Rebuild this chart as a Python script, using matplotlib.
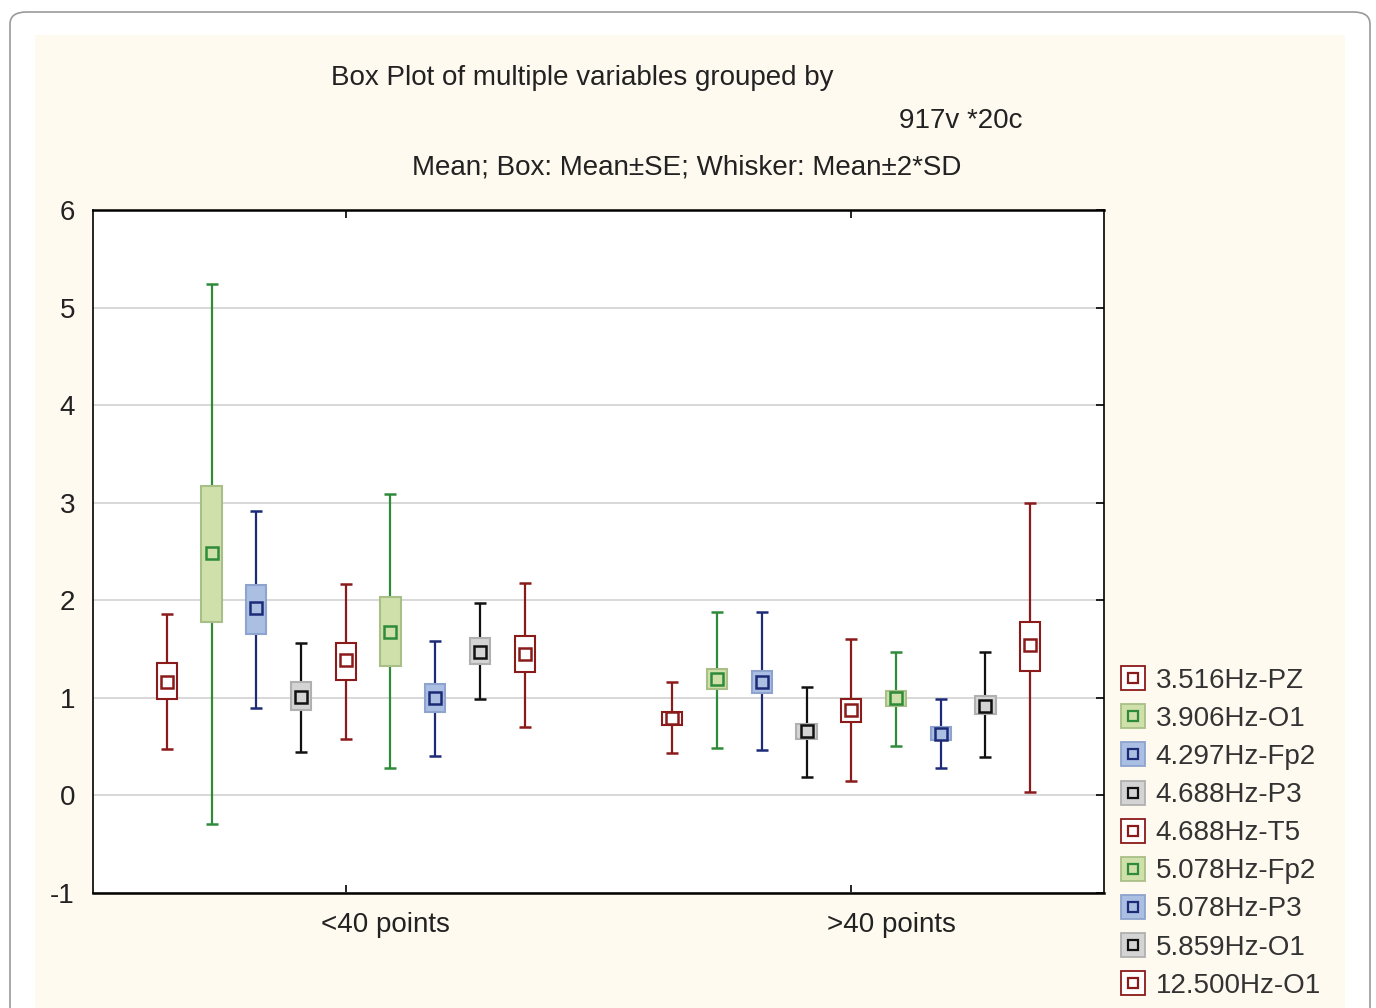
import matplotlib
matplotlib.use("Agg")
import matplotlib.pyplot as plt
from matplotlib.patches import FancyBboxPatch, Rectangle
from matplotlib.lines import Line2D
from matplotlib.legend_handler import HandlerTuple
import matplotlib.transforms as mtrans

plt.rcParams['font.family'] = ['Liberation Sans', 'DejaVu Sans']
plt.rcParams['axes.unicode_minus'] = False

groups = ["<40 points", ">40 points"]
series = ["3.516Hz-PZ", "3.906Hz-O1", "4.297Hz-Fp2", "4.688Hz-P3", "4.688Hz-T5",
          "5.078Hz-Fp2", "5.078Hz-P3", "5.859Hz-O1", "12.500Hz-O1"]

# per group: lists over series
mean_g1 = [1.16, 2.48, 1.92, 1.01, 1.39, 1.67, 1.00, 1.47, 1.45]
se_lo_g1 = [0.99, 1.78, 1.65, 0.88, 1.18, 1.33, 0.85, 1.35, 1.26]
se_hi_g1 = [1.36, 3.17, 2.16, 1.16, 1.56, 2.03, 1.14, 1.61, 1.63]
wh_lo_g1 = [0.48, -0.29, 0.90, 0.45, 0.58, 0.28, 0.40, 0.99, 0.70]
wh_hi_g1 = [1.86, 5.24, 2.91, 1.56, 2.17, 3.09, 1.58, 1.97, 2.18]

mean_g2 = [0.79, 1.19, 1.16, 0.66, 0.88, 1.00, 0.63, 0.92, 1.54]
se_lo_g2 = [0.72, 1.09, 1.05, 0.58, 0.75, 0.92, 0.57, 0.83, 1.28]
se_hi_g2 = [0.86, 1.30, 1.28, 0.73, 0.99, 1.07, 0.70, 1.02, 1.78]
wh_lo_g2 = [0.43, 0.49, 0.47, 0.19, 0.15, 0.51, 0.28, 0.39, 0.04]
wh_hi_g2 = [1.16, 1.88, 1.88, 1.11, 1.60, 1.47, 0.99, 1.47, 3.00]

edge_colors = ["#8b1a1a", "#2e8b3a", "#1c2a78", "#111111", "#8b1a1a",
               "#2e8b3a", "#1c2a78", "#111111", "#8b1a1a"]
fill_colors = ["#ffffff", "#cfe0aa", "#aabfe2", "#d4d4d4", "#ffffff",
               "#cfe0aa", "#aabfe2", "#d4d4d4", "#ffffff"]
box_edge_colors = ["#8b1a1a", "#a9bf88", "#8ea4cf", "#b0b0b0", "#8b1a1a",
                   "#a9bf88", "#8ea4cf", "#b0b0b0", "#8b1a1a"]

fig = plt.figure(figsize=(13.76, 10.08), dpi=100)
fig.patch.set_facecolor("white")
# outer rounded frame and cream panel
fig.add_artist(FancyBboxPatch((10/1376, -0.05), 1360/1376, (1008-10)/1008 + 0.05 - 0.002,
                              boxstyle="round,pad=0,rounding_size=0.012",
                              transform=fig.transFigure, facecolor="white",
                              edgecolor="#9a9a9a", lw=1.2, zorder=-3))
fig.add_artist(Rectangle((35/1376, 0), 1310/1376, (1008-35)/1008,
                         transform=fig.transFigure, facecolor="#fffaf0",
                         edgecolor="none", zorder=-2))

ax = fig.add_axes([93/1376, 1-893/1008, (1104-93)/1376, (893-210)/1008])
ax.set_facecolor("white")
ax.set_xlim(-0.5, 1.5)
ax.set_ylim(-1, 6)
ax.set_yticks(range(-1, 7))
ax.set_xticks([0, 1])
ax.set_xticklabels(groups)
ax.yaxis.grid(True, color="#d6d6d6", lw=1.3)
ax.set_axisbelow(True)
for s in ax.spines.values():
    s.set_color("black")
    s.set_linewidth(1.2)
ax.spines['top'].set_linewidth(1.8)
ax.spines['bottom'].set_linewidth(1.8)
ax.tick_params(axis='both', direction='in', length=6, width=1.2, labelsize=20,
               top=True, right=True, colors="black")
ax.tick_params(axis='y', pad=13, left=False, labelcolor="#222222")
ax.tick_params(axis='x', pad=14, labelcolor="#222222")
for lab in ax.get_xticklabels():
    lab.set_transform(lab.get_transform() + mtrans.ScaledTranslation(40/100, 0, fig.dpi_scale_trans))

step = 0.0885
w = 0.040
data = [(mean_g1, se_lo_g1, se_hi_g1, wh_lo_g1, wh_hi_g1),
        (mean_g2, se_lo_g2, se_hi_g2, wh_lo_g2, wh_hi_g2)]
for g, (mn, slo, shi, wlo, whi) in enumerate(data):
    for i in range(len(series)):
        x = g + (i - 4) * step
        ax.errorbar([x], [mn[i]], yerr=[[mn[i] - wlo[i]], [whi[i] - mn[i]]],
                    fmt='none', ecolor=edge_colors[i], elinewidth=1.6,
                    capsize=4, capthick=1.8, zorder=2)
        ax.bar([x], [shi[i] - slo[i]], bottom=[slo[i]], width=w,
               color=fill_colors[i], edgecolor=box_edge_colors[i], lw=1.5, zorder=3)
        ax.plot([x], [mn[i]], marker='s', ms=9, mfc=fill_colors[i],
                mec=edge_colors[i], mew=1.8, ls='none', zorder=4)

handles = []
for i in range(len(series)):
    outer = Line2D([], [], marker='s', ms=17, mfc=fill_colors[i],
                   mec=edge_colors[i] if fill_colors[i] == "#ffffff" else box_edge_colors[i],
                   mew=1.3, ls='none')
    inner = Line2D([], [], marker='s', ms=7, mfc='none', mec=edge_colors[i], mew=1.6, ls='none')
    handles.append((outer, inner))
leg = fig.legend(handles, series, handler_map={tuple: HandlerTuple(ndivide=1, pad=0)},
                 loc='upper left', bbox_to_anchor=(1119/1376, 1 - 668/1008),
                 frameon=False, fontsize=20, handlelength=1.0, handletextpad=0.32,
                 labelspacing=0.435, borderpad=0, borderaxespad=0)
for t in leg.get_texts():
    t.set_color("#333333")

fig.text(582/1376, 1 - 78/1008, "Box Plot of multiple variables grouped by",
         ha='center', va='center', fontsize=20, color="#222222")
fig.text(961/1376, 1 - 121/1008, "917v *20c", ha='center', va='center',
         fontsize=20, color="#222222")
fig.text(687/1376, 1 - 168/1008, "Mean; Box: Mean\u00b1SE; Whisker: Mean\u00b12*SD",
         ha='center', va='center', fontsize=20, color="#222222")

fig.savefig("out.png", dpi=100)
